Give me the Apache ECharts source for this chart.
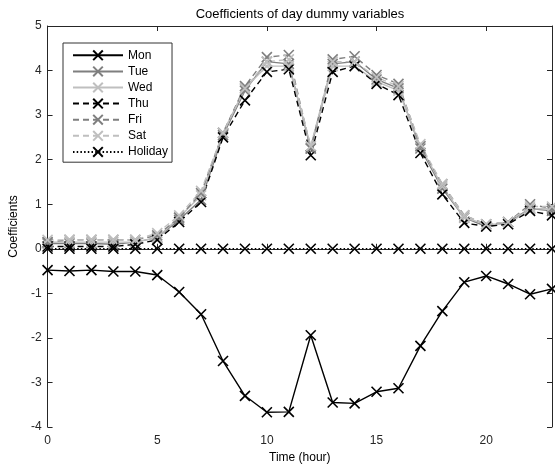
<!DOCTYPE html>
<html>
<head>
<meta charset="utf-8">
<script src="https://cdn.jsdelivr.net/npm/echarts@6/dist/echarts.min.js"></script>
<style>html,body{margin:0;padding:0;background:#fff}#c{width:555px;height:469px}</style>
</head>
<body>
<div id="c"></div>
<script>
var hours = [0,1,2,3,4,5,6,7,8,9,10,11,12,13,14,15,16,17,18,19,20,21,22,23];
var xTicks = [0,5,10,15,20];
var yTicks = [-4,-3,-2,-1,0,1,2,3,4,5];
var mon = [-0.48,-0.50,-0.48,-0.51,-0.51,-0.59,-0.97,-1.47,-2.52,-3.30,-3.67,-3.66,-1.94,-3.45,-3.47,-3.21,-3.13,-2.18,-1.40,-0.75,-0.61,-0.79,-1.02,-0.90];
var tue = [0.12,0.12,0.12,0.10,0.15,0.25,0.65,1.10,2.55,3.55,4.20,4.15,2.25,4.15,4.20,3.80,3.60,2.25,1.35,0.70,0.50,0.60,0.90,0.85];
var wed = [0.15,0.15,0.15,0.15,0.15,0.25,0.70,1.20,2.60,3.60,4.10,4.10,2.30,4.10,4.10,3.75,3.55,2.30,1.40,0.70,0.55,0.55,0.90,0.90];
var thu = [0.05,0.05,0.05,0.05,0.10,0.20,0.60,1.05,2.50,3.33,3.97,4.03,2.10,3.97,4.10,3.70,3.45,2.15,1.22,0.58,0.50,0.55,0.85,0.75];
var fri = [0.15,0.20,0.20,0.20,0.20,0.30,0.70,1.25,2.60,3.65,4.30,4.35,2.25,4.25,4.32,3.90,3.70,2.30,1.45,0.75,0.55,0.60,1.00,0.90];
var sat = [0.20,0.20,0.20,0.20,0.20,0.35,0.75,1.30,2.60,3.60,4.20,4.25,2.30,4.20,4.20,3.85,3.65,2.35,1.45,0.75,0.55,0.60,0.95,0.95];
var hol = [0,0,0,0,0,0,0,0,0,0,0,0,0,0,0,0,0,0,0,0,0,0,0,0];
var names = ['Mon','Tue','Wed','Thu','Fri','Sat','Holiday'];

var FONT = "'Liberation Sans', Arial, Helvetica, sans-serif";
var AX = '#262626';
var DARK = '#7f7f7f', LIGHT = '#bfbfbf';
var XSYM = 'path://M0,0L10,10M10,0L0,10';

function mk(name, vals, color, type) {
  return {
    name: name, type: 'line',
    data: hours.map(function (h, i) { return [h, vals[i]]; }),
    symbol: XSYM, symbolSize: 10, showAllSymbol: true,
    lineStyle: { color: color, width: 1.4, type: type },
    itemStyle: { color: 'none', borderColor: color, borderWidth: 1.6 },
    emphasis: { disabled: true },
    animation: false
  };
}
var dash = [6, 4], dot = [1.5, 2.2];

var chart = echarts.init(document.getElementById('c'), null, { renderer: 'canvas' });
chart.setOption({
  backgroundColor: '#fff',
  animation: false,
  textStyle: { fontFamily: FONT },
  title: {
    text: 'Coefficients of day dummy variables',
    left: 300, top: 8, textAlign: 'center', padding: 0,
    textStyle: { fontSize: 13, fontWeight: 'normal', color: '#000', fontFamily: FONT }
  },
  grid: { left: 46, top: 26, right: 1.5, bottom: 42, show: false },
  legend: {
    data: names, orient: 'vertical', left: 63, top: 43,
    padding: [5, 4, 3, 9], itemWidth: 50, itemHeight: 12, itemGap: 1.5,
    borderColor: '#333', borderWidth: 1, backgroundColor: '#fff',
    textStyle: { fontSize: 12, color: '#000', fontFamily: FONT, padding: [0,0,0,0] },
    selectedMode: false
  },
  xAxis: [{
    type: 'value', min: 0, max: 23, interval: 5,
    name: 'Time (hour)', nameLocation: 'middle', nameGap: 24,
    nameTextStyle: { fontSize: 12, color: '#000', fontFamily: FONT },
    axisLine: { show: true, lineStyle: { color: AX, width: 1 } },
    axisTick: { show: true, inside: true, length: 5, lineStyle: { color: AX } },
    axisLabel: { fontSize: 12, color: AX, margin: 8, fontFamily: FONT,
      formatter: function (v) { return xTicks.indexOf(v) >= 0 ? String(v) : ''; } },
    splitLine: { show: false }
  }, {
    type: 'value', min: 0, max: 23, interval: 5, position: 'top',
    axisLine: { show: true, onZero: false, lineStyle: { color: AX, width: 1 } },
    axisTick: { show: true, inside: true, length: 5, lineStyle: { color: AX } },
    axisLabel: { show: false }, splitLine: { show: false }
  }],
  yAxis: [{
    type: 'value', min: -4, max: 5, interval: 1,
    name: 'Coefficients', nameLocation: 'middle', nameGap: 26,
    nameTextStyle: { fontSize: 12, color: '#000', fontFamily: FONT },
    axisLine: { show: true, onZero: false, lineStyle: { color: AX, width: 1 } },
    axisTick: { show: true, inside: true, length: 5, lineStyle: { color: AX } },
    axisLabel: { fontSize: 12, color: AX, margin: 6, fontFamily: FONT,
      formatter: function (v) { return yTicks.indexOf(v) >= 0 ? String(v) : ''; } },
    splitLine: { show: false }
  }, {
    type: 'value', min: -4, max: 5, interval: 1, position: 'right',
    axisLine: { show: true, onZero: false, lineStyle: { color: AX, width: 1 } },
    axisTick: { show: true, inside: true, length: 5, lineStyle: { color: AX } },
    axisLabel: { show: false }, splitLine: { show: false }
  }],
  series: [
    mk('Mon', mon, '#000', 'solid'),
    mk('Tue', tue, DARK, 'solid'),
    mk('Wed', wed, LIGHT, 'solid'),
    mk('Thu', thu, '#000', dash),
    mk('Fri', fri, DARK, dash),
    mk('Sat', sat, LIGHT, dash),
    mk('Holiday', hol, '#000', dot)
  ]
});
</script>
</body>
</html>
